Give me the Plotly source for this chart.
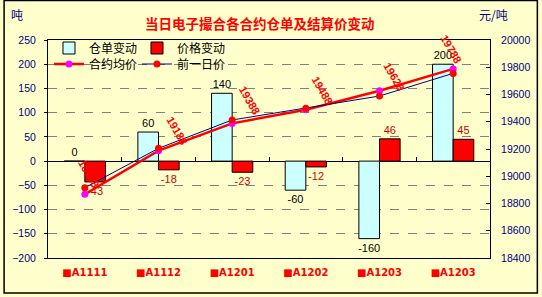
import plotly.graph_objects as go

# ---- data ----
contracts = ["■A1111", "■A1112", "■A1201", "■A1202", "■A1203", "■A1203"]
warehouse_change = [0, 60, 140, -60, -160, 200]      # 仓单变动 (吨)
price_change = [-43, -18, -23, -12, 46, 45]          # 价格变动
avg_price = [18868, 19188, 19388, 19488, 19628, 19788]   # 合约均价 (元/吨)
prev_price = [18916, 19205, 19413, 19500, 19589, 19755]  # 前一日价

W, H = 542, 297
ML, MR, MT, MB = 45, 49, 40, 39
PW, PH = W - ML - MR, H - MT - MB

def px_x(px):
    return (px - ML) / PW

def px_y(py):
    return (H - MB - py) / PH

xs = list(range(len(contracts)))
bg = "#FFFFCC"
navy = "#000080"
num_font = "Liberation Sans, Arial, sans-serif"
cjk_font = "Noto Sans CJK SC, sans-serif"

fig = go.Figure()
fig.add_trace(go.Bar(
    x=xs, y=warehouse_change, name="仓单变动",
    marker=dict(color="#CCFFFF", line=dict(color="black", width=1)),
    text=[str(v) for v in warehouse_change], textposition="outside",
    textfont=dict(color="black", size=11, family=num_font),
    constraintext="none", cliponaxis=False, legend="legend",
))
fig.add_trace(go.Bar(
    x=xs, y=price_change, name="价格变动",
    marker=dict(color="#FF0000", line=dict(color="black", width=1)),
    text=[str(v) for v in price_change], textposition="outside",
    textfont=dict(color="#CC0000", size=11, family=num_font),
    constraintext="none", cliponaxis=False, legend="legend",
))
fig.add_trace(go.Scatter(
    x=xs, y=avg_price, name="合约均价", yaxis="y2", mode="lines+markers",
    line=dict(color="#FF0000", width=2.5),
    marker=dict(color="#FF00FF", size=7, line=dict(width=0)),
    legend="legend2", cliponaxis=False,
))
fig.add_trace(go.Scatter(
    x=xs, y=prev_price, name="前一日价", yaxis="y2", mode="lines+markers",
    line=dict(color=navy, width=1),
    marker=dict(color="#FF0000", size=7, line=dict(width=0)),
    legend="legend2", cliponaxis=False,
))
# helper axis carrying category-boundary tick marks on the zero line
fig.add_trace(go.Scatter(x=[], y=[], xaxis="x2", yaxis="y", showlegend=False,
                         hoverinfo="skip"))

# rotated data labels of 合约均价
label_shift = [(4, 20), (19, 20), (17, 23), (17, 19), (15, 14), (-2, 20)]
for i, v in enumerate(avg_price):
    dx, dy = label_shift[i]
    fig.add_annotation(x=xs[i], y=v, xref="x", yref="y2", text=str(v),
                       showarrow=False, textangle=60, xshift=dx, yshift=dy,
                       font=dict(color="#FF0000", size=11, family=num_font, weight="bold"))

# title and unit labels
fig.add_annotation(x=px_x(260), y=px_y(23), xref="paper", yref="paper",
                   xanchor="center", yanchor="middle",
                   text="当日电子撮合各合约仓单及结算价变动", showarrow=False,
                   font=dict(color="#FF0000", size=13.5, family=cjk_font, weight="bold"))
fig.add_annotation(x=px_x(5), y=px_y(15), xref="paper", yref="paper",
                   xanchor="left", yanchor="middle",
                   text="吨", showarrow=False, font=dict(color=navy, size=12, family=cjk_font))
fig.add_annotation(x=px_x(513), y=px_y(15), xref="paper", yref="paper",
                   xanchor="right", yanchor="middle",
                   text="元/吨", showarrow=False, font=dict(color=navy, size=12, family=cjk_font))

# outer chart border
fig.add_shape(type="rect", xref="paper", yref="paper",
              x0=px_x(0.5), x1=px_x(541), y0=px_y(293), y1=px_y(0.5),
              line=dict(color="black", width=1.5), layer="above")

leg_common = dict(orientation="h", xanchor="left", yanchor="middle",
                  bgcolor="rgba(0,0,0,0)", font=dict(size=12, family=cjk_font, color="black"),
                  entrywidth=43, tracegroupgap=0, itemwidth=30)
fig.update_layout(
    width=W, height=H,
    margin=dict(l=ML, r=MR, t=MT, b=MB, pad=0),
    paper_bgcolor=bg, plot_bgcolor=bg,
    barmode="group", bargap=0.44, bargroupgap=0,
    showlegend=True,
    legend=dict(x=px_x(46), y=px_y(48), **leg_common),
    legend2=dict(x=px_x(46), y=px_y(64), **leg_common),
    xaxis=dict(range=[-0.5, 5.5], tickvals=xs, ticktext=contracts, showgrid=False,
               zeroline=False, showline=True, mirror=True, linecolor="black", linewidth=1,
               ticks="", tickfont=dict(color="#FF0000", size=10, family="DejaVu Sans, sans-serif",
                                       weight="bold"),
               ticklabelstandoff=5),
    xaxis2=dict(overlaying="x", range=[-0.5, 5.5], anchor="free", position=200 / 450,
                tickvals=[0.5, 1.5, 2.5, 3.5, 4.5], ticks="inside", ticklen=4,
                tickcolor="black", showticklabels=False, showgrid=False,
                zeroline=False, showline=False),
    yaxis=dict(range=[-200, 250], dtick=50, showgrid=True, gridcolor="#808080",
               griddash="dash", gridwidth=1, zeroline=True, zerolinecolor="black",
               zerolinewidth=1, showline=True, mirror=True, linecolor="black",
               ticks="outside", ticklen=3, tickcolor="black",
               tickfont=dict(color=navy, size=10.5, family=num_font), ticklabelstandoff=6),
    yaxis2=dict(range=[18400, 20000], dtick=200, overlaying="y", side="right",
                showgrid=False, zeroline=False, showline=True, linecolor="black",
                ticks="inside", ticklen=4, tickcolor="black", tickformat="d",
                tickfont=dict(color=navy, size=10.5, family=num_font), ticklabelstandoff=8),
)

fig.write_html("out.html")
